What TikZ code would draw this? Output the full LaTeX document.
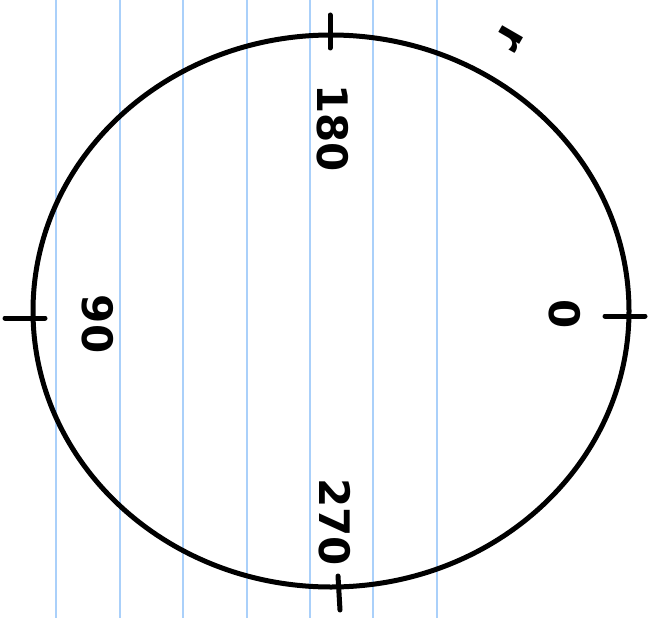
\documentclass[tikz,border=0pt]{standalone}
\usepackage{fontspec}
\setmainfont{DejaVu Sans}
\begin{document}
\begin{tikzpicture}[x=1pt,y=-1pt,
  rule/.style={draw={rgb,255:red,170;green,208;blue,250},line width=1.5pt},
  ink/.style={draw=black,line width=5pt,line cap=round},
  lbl/.style={font=\bfseries\fontsize{42}{42}\selectfont,rotate=-90,inner sep=0pt}]
\useasboundingbox (0,0) rectangle (661,618);
\fill[white] (0,0) rectangle (661,618);
\foreach \x in {56,120,183,247,310,373,437}{
  \coordinate (t\x) at (\x,0); \coordinate (b\x) at (\x,618);
  \draw[rule] (t\x) -- (b\x);}
\coordinate (c) at (331,311);
\draw[ink] (c) ellipse [x radius=298, y radius=276];
\coordinate (tt1) at (330,15); \coordinate (tt2) at (330,48);
\coordinate (bt1) at (338,576); \coordinate (bt2) at (340,610);
\coordinate (lt1) at (5,318); \coordinate (lt2) at (45,318);
\coordinate (rt1) at (605,316); \coordinate (rt2) at (645,316);
\draw[ink] (tt1) -- (tt2);
\draw[ink] (bt1) -- (bt2);
\draw[ink] (lt1) -- (lt2);
\draw[ink] (rt1) -- (rt2);
\node[lbl] (a180) at (333,128) {180};
\node[lbl] (a270) at (335,522) {270};
\node[lbl] (a90) at (98,324) {90};
\node[lbl] (a0) at (565,314) {0};
\node[lbl,font=\bfseries\fontsize{44}{44}\selectfont,rotate=-30] (r) at (510,38) {r};
\end{tikzpicture}
\end{document}
